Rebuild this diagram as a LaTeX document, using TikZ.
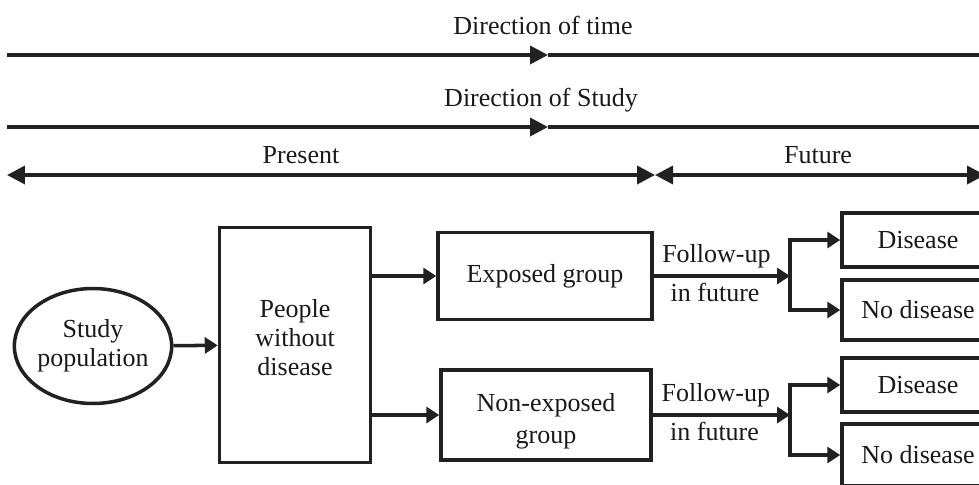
\documentclass[tikz,border=0pt]{standalone}
\usepackage{fontspec}
\setmainfont{Liberation Serif}
\usetikzlibrary{arrows.meta,shapes.geometric}

\tikzset{
	bigtri/.tip={Triangle[length=0.36cm,width=0.36cm]},
	smalltri/.tip={Triangle[length=0.26cm,width=0.32cm]},
	every node/.style={font=\fontsize{14.8}{16.5}\selectfont, text=black!90},
	line/.style={line width=2pt, color=black!87},
	arr/.style={line, -{smalltri}},
	box/.style={draw=black!87, line width=2pt, align=center, inner sep=0pt},
	oval/.style={box, ellipse},
}

\begin{document}
\begin{tikzpicture}[x=0.02cm, y=-0.02cm]
		\useasboundingbox (0,0) rectangle (979,484);
		
		%%%%% TIME AXES %%%%%
		\coordinate (time-s) at (7,55);
		\coordinate (time-m) at (548,55);
		\coordinate (time-e) at (990,55);
		\coordinate (study-s) at (7,127);
		\coordinate (study-m) at (548,127);
		\coordinate (study-e) at (990,127);
		\coordinate (pres-s) at (7,175);
		\coordinate (pres-e) at (655,175);
		\coordinate (fut-e) at (985,175);
		
		\node (timetxt) at (543,25) {Direction of time};
		\node (studytxt) at (541,100) {Direction of Study};
		\node (present) at (301,155) {Present};
		\node (future) at (818,155) {Future};
		
		\draw[line, -{bigtri}] (time-s) -- (time-m);
		\draw[line] (time-m) -- (time-e);
		\draw[line, -{bigtri}] (study-s) -- (study-m);
		\draw[line] (study-m) -- (study-e);
		\draw[line, {bigtri}-{bigtri}] (pres-s) -- (pres-e);
		\draw[line, {bigtri}-{bigtri}] (pres-e) -- (fut-e);
		
		%%%%% FLOW %%%%%
		\node[oval, minimum width=3.08cm, minimum height=2.3cm] (pop) at (93,346) {Study\\population};
		\node[box, minimum width=3.02cm, minimum height=4.7cm,
			label={[name=peopletxt, align=center, yshift=4pt]center:People\\without\\disease}] (people) at (295,345) {};
		
		\node[box, minimum width=4.28cm, minimum height=1.74cm] (exposed) at (545,276) {Exposed group};
		\node[box, minimum width=4.2cm, minimum height=1.8cm,
			label={[name=nonexptxt, align=center, yshift=-3.5pt]center:Non-exposed\\[2pt]group}] (nonexp) at (546,415) {};
		
		\node[box, minimum width=3.04cm, minimum height=1.08cm] (dis1) at (918,240) {Disease};
		\node[box, minimum width=3.04cm, minimum height=1.2cm] (nodis1) at (918,310) {No disease};
		\node[box, minimum width=3.04cm, minimum height=1.08cm] (dis2) at (918,385) {Disease};
		\node[box, minimum width=3.04cm, minimum height=1.24cm] (nodis2) at (918,455) {No disease};
		
		\coordinate (br1) at (790,276);
		\coordinate (br2) at (790,415);
		
		\draw[arr] (pop) -- (people);
		\draw[arr] (people.east |- exposed.west) -- (exposed.west);
		\draw[arr] (people.east |- nonexp.west) -- (nonexp.west);
		
		\draw[arr] (exposed.east) -- (br1) node[pos=0.46, above] (fu1) {Follow-up} node[pos=0.45, below] (if1) {in future};
		\draw[arr] (nonexp.east) -- (br2) node[pos=0.46, above] (fu2) {Follow-up} node[pos=0.45, below] (if2) {in future};
		
		\draw[line, {smalltri}-{smalltri}] (dis1.west) -- (br1 |- dis1.west) -- (br1 |- nodis1.west) -- (nodis1.west);
		\draw[line, {smalltri}-{smalltri}] (dis2.west) -- (br2 |- dis2.west) -- (br2 |- nodis2.west) -- (nodis2.west);
		
		%%%%% END %%%%%
	\end{tikzpicture}
\end{document}
